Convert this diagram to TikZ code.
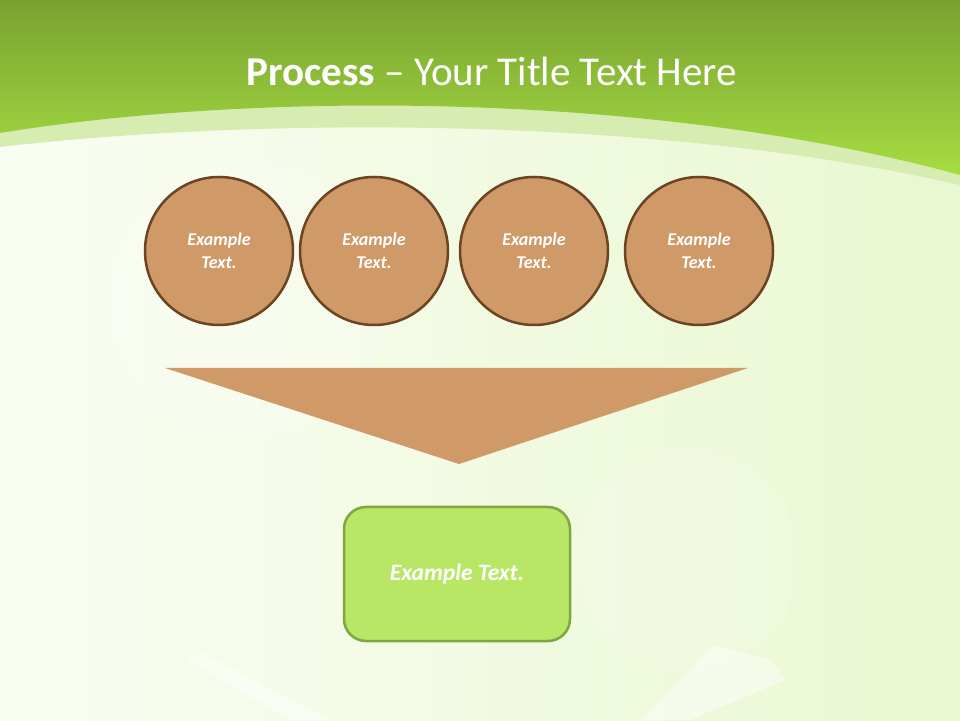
\documentclass[tikz,border=0pt]{standalone}
\usepackage{fontspec}
\setmainfont{Carlito}
\definecolor{leafgreen}{RGB}{184,230,101}
\definecolor{leafdark}{RGB}{127,166,64}
\definecolor{tanfill}{RGB}{207,153,104}
\definecolor{tanedge}{RGB}{107,68,34}
\definecolor{topgreen}{RGB}{120,162,48}
\definecolor{midgreen}{RGB}{166,220,66}
\definecolor{paleband}{RGB}{214,236,176}

\begin{document}
\begin{tikzpicture}[x=1pt, y=1pt]
  \tikzset{
    tan_circle/.style={
      circle, draw=tanedge, fill=tanfill, line width=2.5pt, minimum size=148pt, inner sep=0pt,
      text=white, align=center, font=\fontsize{18}{23}\selectfont\bfseries\itshape
    },
    green_box/.style={
      rectangle, rounded corners=22pt, draw=leafdark, fill=leafgreen, line width=2.5pt,
      minimum width=226pt, minimum height=134pt, text=white,
      font=\fontsize{23.5}{28}\selectfont\bfseries\itshape
    },
    page_sheet/.style={fill=white, opacity=0.45}
  }
  \useasboundingbox (0,0) rectangle (960,720);

  % Draw the pale background and the curved green header
  \shade[left color=white!60!leafgreen!20, right color=leafgreen!30] (0,0) rectangle (960,720);
  \fill[white, opacity=0.2] (250,420) circle (140);
  \fill[white, opacity=0.15] (690,160) circle (110);
  \fill[page_sheet] (184,62) -- (205,66) -- (330,0) -- (290,0) -- cycle;
  \fill[page_sheet] (714,75) -- (771,60) -- (785,40) -- (690,0) -- (640,0) -- cycle;
  \fill[paleband] (0,720) -- (0,573) .. controls (250,602) and (650,606) .. (960,535) -- (960,720) -- cycle;
  \shade[top color=topgreen, bottom color=midgreen] (0,720) -- (0,587) .. controls (250,628) and (650,630) .. (960,545) -- (960,720) -- cycle;

  % Draw the title
  \node[text=white, font=\fontsize{41}{46}\selectfont, anchor=base] (title) at (492,634)
    {\textbf{Process} – Your Title Text Here};

  % Draw the row of circles
  \foreach \cx [count=\ci] in {219,374,534,699} {
    \node[tan_circle] (c\ci) at (\cx,469) {Example\\Text.};
  }

  % Draw the funnel under the circles
  \coordinate (funnel-l) at (165,352);
  \coordinate (funnel-r) at (748,352);
  \coordinate (funnel-tip) at (459,256);
  \fill[tanfill] (funnel-l) -- (funnel-r) -- (funnel-tip) -- cycle;

  % Draw the result box
  \node[green_box] (result) at (457,146) {Example Text.};

\end{tikzpicture}
\end{document}
